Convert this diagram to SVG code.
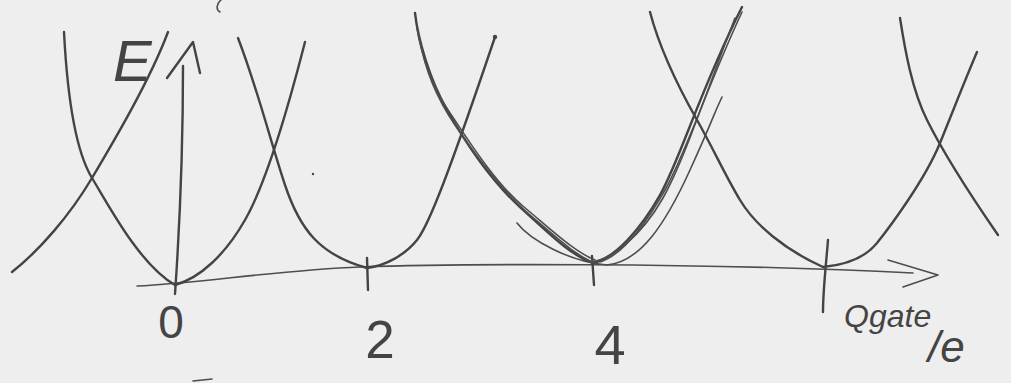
<svg xmlns="http://www.w3.org/2000/svg" width="1011" height="383" viewBox="0 0 1011 383">
<style>
.ink{fill:none;stroke:#444444;stroke-width:2.4;stroke-linecap:round;stroke-linejoin:round}
.thin{fill:none;stroke:#4d4d4d;stroke-width:1.6;stroke-linecap:round;stroke-linejoin:round}
.lbl{fill:#444444;font-family:"Liberation Sans",Arial,sans-serif}
</style>
<rect width="1011" height="383" fill="#eeeeee"/>
<g id="axes">
<path class="thin" d="M137,286 C200,283 280,270 360,267 S700,262 913,273"/>
<path class="thin" d="M888,260 L938,275 L903,287"/>
<path class="ink" d="M175,294 C178,250 183,180 183,66"/>
<path class="ink" d="M167,78 L193,42 L200,73"/>
<path class="ink" d="M367,258 L368,290"/>
<path class="ink" d="M592,256 L594,285"/>
<path class="ink" d="M828,240 C826,265 823,290 823,312"/>
</g>
<g id="curves">
<path id="far-left" class="ink" d="M12,272 C40,250 70,215 92,178 S150,80 168,32"/>
<path id="p0-left" class="ink" d="M64,32 C67,90 75,150 92,178 S140,265 175,285"/>
<path id="p0-right" class="ink" d="M175,285 C200,278 225,255 245,220 S285,120 305,42"/>
<path id="p2-left" class="ink" d="M238,38 C258,90 270,140 285,185 S320,255 367,268"/>
<path id="p2-right" class="ink" d="M367,268 C385,266 405,255 417,240 S450,170 495,37"/>
<circle cx="495" cy="37" r="2.2" fill="#444444"/>
<g id="p4">
<path class="ink" d="M415,13 C418,40 430,80 447,110 S490,180 520,207 S570,255 593,263"/>
<path class="thin" d="M417,28 C421,55 433,88 450,113 S494,182 524,207 S575,252 595,260"/>
<path class="thin" d="M420,40 C425,70 438,100 455,125 S500,190 530,215 S578,258 598,264"/>
<path class="ink" d="M593,263 C615,258 640,230 660,195 S700,90 742,7"/>
<path class="thin" d="M590,262 C612,260 642,235 663,198 S705,95 735,18"/>
<path class="thin" d="M600,262 C622,255 645,225 665,190 S710,80 742,12"/>
<path class="thin" d="M517,223 C530,240 570,262 607,265 C640,262 665,225 690,170 S712,118 722,97"/>
</g>
<path id="p6-left" class="ink" d="M650,12 C660,50 680,90 697,120 S725,175 740,200 S785,250 823,267"/>
<path id="p6-right" class="ink" d="M823,267 C845,265 865,258 877,243 S925,180 940,143 S965,80 977,52"/>
<path id="far-right" class="ink" d="M900,18 C905,50 912,90 927,120 S960,180 998,235"/>
</g>
<g id="marks">
<path class="thin" d="M221,0 C216,4 216,10 220,12"/>
<path class="thin" d="M193,381 L212,379"/>
<circle cx="313" cy="174" r="1.2" fill="#444444"/>
</g>
<g id="labels">
<text class="lbl" x="113" y="81" font-size="58" font-style="italic">E</text>
<text class="lbl" x="171" y="338" font-size="46" text-anchor="middle">0</text>
<text class="lbl" x="380" y="358" font-size="53" text-anchor="middle">2</text>
<text class="lbl" x="610" y="364" font-size="56" text-anchor="middle">4</text>
<text class="lbl" x="844" y="327" font-size="32" font-style="italic">Qgate<tspan x="928" y="362" font-size="44">/e</tspan></text>
</g>
</svg>
